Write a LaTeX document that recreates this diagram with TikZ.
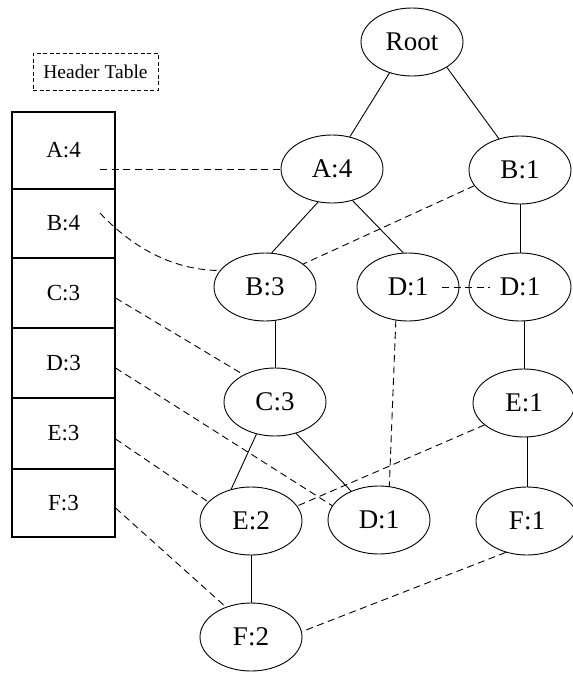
\documentclass[tikz,border=0pt]{standalone}
\usepackage{fontspec}
\setmainfont{Liberation Serif}
\usetikzlibrary{shapes.geometric}
\begin{document}
\begin{tikzpicture}[x=1pt,y=-1pt,
  fpnode/.style={ellipse,draw,line width=0.9pt,minimum width=102pt,minimum height=68pt,
    inner sep=0pt,font=\fontsize{27}{27}\selectfont},
  cell/.style={rectangle,draw,line width=1.1pt,minimum width=103pt,inner sep=0pt,
    font=\fontsize{23}{23}\selectfont},
  tree/.style={line width=0.9pt},
  nodelink/.style={line width=0.9pt,dash pattern=on 7pt off 4.5pt},
]
\useasboundingbox (0,0) rectangle (573,673);

% header table
\node[draw,line width=0.8pt,dash pattern=on 4pt off 2.5pt,minimum width=125pt,minimum height=37pt,
  inner sep=0pt,font=\fontsize{19.5}{19.5}\selectfont] (hdr) at (95.5,71.5) {Header Table};
\node[cell,minimum height=77pt] (tA) at (63.5,150.5) {A:4};
\node[cell,minimum height=69pt] (tB) at (63.5,223.5) {B:4};
\node[cell,minimum height=70pt] (tC) at (63.5,293) {C:3};
\node[cell,minimum height=70pt] (tD) at (63.5,363) {D:3};
\node[cell,minimum height=71pt] (tE) at (63.5,433.5) {E:3};
\node[cell,minimum height=68pt] (tF) at (63.5,503) {F:3};

% FP-tree nodes
\node[fpnode] (R)   at (412,42)  {Root};
\node[fpnode] (A4)  at (332,169) {A:4};
\node[fpnode] (B1)  at (520,170) {B:1};
\node[fpnode] (B3)  at (265,287) {B:3};
\node[fpnode] (D1a) at (408,287) {D:1};
\node[fpnode] (D1b) at (520,287) {D:1};
\node[fpnode] (C3)  at (275,402) {C:3};
\node[fpnode] (E1)  at (524,403) {E:1};
\node[fpnode] (E2)  at (251,521) {E:2};
\node[fpnode] (D1c) at (379,520) {D:1};
\node[fpnode] (F1)  at (527,521) {F:1};
\node[fpnode] (F2)  at (251,637) {F:2};

% tree edges
\draw[tree] (R.234) -- (A4.61);
\draw[tree] (R.324) -- (B1.124);
\draw[tree] (A4.247) -- (B3.79);
\draw[tree] (A4.303) -- (D1a.98);
\draw[tree] (B1.south) -- (D1b.north);
\draw[tree] (C3.north |- B3.south) -- (C3.north);
\draw[tree] (C3.240) -- (E2.122);
\draw[tree] (C3.304) -- (D1c.134);
\draw[tree] (E1.north |- D1b.south) -- (E1.north);
\draw[tree] (F1.north |- E1.south) -- (F1.north);
\draw[tree] (E2.south) -- (F2.north);

% header table links
\coordinate (sA) at (100,169);
\coordinate (sB) at (100,213);
\draw[nodelink] (sA) -- (A4.west);
\draw[nodelink] (sB) .. controls (130,245) and (170,270) .. (B3.160);
\draw[nodelink] (tC.east |- 0,298) -- (C3.139);
\draw[nodelink] (tD.east |- 0,368) -- (D1c.163);
\draw[nodelink] (tE.east |- 0,439) -- (E2.156);
\draw[nodelink] (tF.east |- 0,508) -- (F2.130);

% node links between equal items
\draw[nodelink] (B1.199) -- (B3.31);
\draw[nodelink] ([xshift=34pt]D1a.center) -- ([xshift=-30pt]D1b.center);
\draw[nodelink] (D1a.250) -- (D1c.73);
\draw[nodelink] (E1.209) -- (E2.18);
\draw[nodelink] (F1.236) -- (F2.6);
\end{tikzpicture}
\end{document}
